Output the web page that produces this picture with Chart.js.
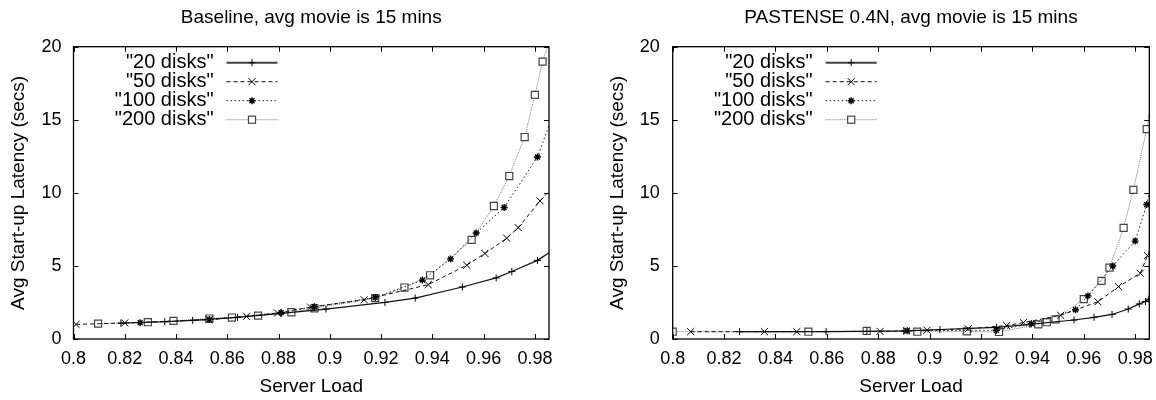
<!DOCTYPE html>
<html>
<head>
<meta charset="utf-8">
<script src="https://cdn.jsdelivr.net/npm/chart.js@4.4.1/dist/chart.umd.min.js"></script>
<style>
  body { margin: 0; background: #fff; }
  .wrap { position: absolute; top: 0; width: 578px; height: 400px; }
</style>
</head>
<body>
<div class="wrap" style="left:0"><canvas id="baseline" width="578" height="400"></canvas></div>
<div class="wrap" style="left:578px"><canvas id="pastense" width="578" height="400"></canvas></div>
<script>
// axis ticks
const xTickValues = [0.8, 0.82, 0.84, 0.86, 0.88, 0.9, 0.92, 0.94, 0.96, 0.98];
const yTickValues = [0, 5, 10, 15, 20];
const xMin = 0.8, xMax = 0.9855;
const seriesLabels = ['"20 disks"', '"50 disks"', '"100 disks"', '"200 disks"'];

// Baseline, avg movie is 15 mins
const base20X = [0.8185, 0.8356, 0.8465, 0.864, 0.881, 0.8985, 0.9215, 0.9333, 0.9517, 0.9649, 0.971, 0.981, 0.9855];
const base20Y = [1.08, 1.18, 1.28, 1.48, 1.75, 2.05, 2.5, 2.8, 3.56, 4.18, 4.62, 5.38, 5.9];
const base50X = [0.801, 0.820, 0.853, 0.8675, 0.8796, 0.8925, 0.9134, 0.9384, 0.9534, 0.9605, 0.969, 0.9735, 0.982, 0.9855];
const base50Y = [1.0, 1.1, 1.32, 1.55, 1.78, 2.18, 2.68, 3.72, 5.05, 5.85, 6.9, 7.62, 9.45, 10.1];
const base100X = [0.826, 0.853, 0.881, 0.894, 0.9177, 0.9361, 0.9471, 0.9571, 0.968, 0.981, 0.9855];
const base100Y = [1.12, 1.33, 1.8, 2.21, 2.84, 4.03, 5.48, 7.25, 9.0, 12.45, 14.6];
const base200X = [0.8096, 0.829, 0.839, 0.853, 0.8618, 0.872, 0.885, 0.894, 0.9177, 0.9291, 0.9391, 0.9553, 0.964, 0.970, 0.976, 0.980, 0.983, 0.9855];
const base200Y = [1.05, 1.15, 1.24, 1.4, 1.47, 1.6, 1.83, 2.1, 2.8, 3.52, 4.36, 6.78, 9.1, 11.15, 13.82, 16.7, 18.98, 20.3];

// PASTENSE 0.4N, avg movie is 15 mins
const past20X = [0.826, 0.8597, 0.8756, 0.890, 0.904, 0.926, 0.939, 0.9562, 0.964, 0.971, 0.9773, 0.9816, 0.984, 0.9853];
const past20Y = [0.5, 0.5, 0.52, 0.55, 0.65, 0.8, 1.0, 1.3, 1.48, 1.68, 2.05, 2.4, 2.57, 2.73];
const past50X = [0.807, 0.8357, 0.8483, 0.8807, 0.891, 0.899, 0.915, 0.930, 0.9365, 0.951, 0.9655, 0.9735, 0.982, 0.9848, 0.9855];
const past50Y = [0.5, 0.5, 0.5, 0.52, 0.55, 0.6, 0.7, 0.92, 1.12, 1.62, 2.55, 3.58, 4.5, 5.7, 6.0];
const past100X = [0.8913, 0.926, 0.9396, 0.9568, 0.9616, 0.9713, 0.980, 0.9845, 0.9855];
const past100Y = [0.57, 0.6, 1.05, 2.0, 2.95, 5.0, 6.7, 9.2, 10.0];
const past200X = [0.8, 0.8528, 0.8755, 0.8952, 0.9145, 0.927, 0.9423, 0.9456, 0.949, 0.96, 0.9669, 0.970, 0.9755, 0.9793, 0.9845, 0.9855];
const past200Y = [0.5, 0.5, 0.55, 0.5, 0.52, 0.48, 1.0, 1.15, 1.35, 2.73, 3.98, 4.88, 7.6, 10.2, 14.36, 15.5];

const FONT = "'Liberation Sans', Arial, Helvetica, sans-serif";

// line/marker look per series (gnuplot mono style)
const styles = [
    { color: '#111', width: 1.2, dash: [], point: 'cross', radius: 3.5, pw: 1 },
    { color: '#111', width: 1, dash: [4, 3], point: 'crossRot', radius: 5, pw: 1 },
    { color: '#222', width: 1, dash: [1.5, 2.5], point: 'star', radius: 3.5, pw: 1.4 },
    { color: '#777', width: 1, dash: [1, 1], point: 'rect', radius: 5, pw: 1.2 }
];

function pairs(xs, ys) {
    return xs.map((x, i) => ({ x, y: ys[i] }));
}

function makeDatasets(series) {
    return series.map(([xs, ys], i) => {
        const s = styles[i];
        return {
            label: seriesLabels[i],
            data: pairs(xs, ys),
            borderColor: s.color,
            borderWidth: s.width,
            borderDash: s.dash,
            tension: 0,
            pointStyle: s.point,
            pointRadius: ctx => (ctx.raw && ctx.raw.x >= xMax ? 0 : s.radius),
            pointHoverRadius: 0,
            pointBorderColor: i === 3 ? '#444' : '#000',
            pointBackgroundColor: '#fff',
            pointBorderWidth: s.pw
        };
    });
}

function drawMarker(ctx, s, x, y) {
    const r = s.radius;
    ctx.save();
    ctx.setLineDash([]);
    ctx.lineWidth = s.pw;
    ctx.strokeStyle = s.point === 'rect' ? '#444' : '#000';
    ctx.beginPath();
    if (s.point === 'cross' || s.point === 'star') {
        ctx.moveTo(x - r, y); ctx.lineTo(x + r, y);
        ctx.moveTo(x, y - r); ctx.lineTo(x, y + r);
    }
    if (s.point === 'crossRot' || s.point === 'star') {
        const d = r * Math.SQRT1_2;
        ctx.moveTo(x - d, y - d); ctx.lineTo(x + d, y + d);
        ctx.moveTo(x - d, y + d); ctx.lineTo(x + d, y - d);
    }
    ctx.stroke();
    if (s.point === 'rect') {
        const h = r * Math.SQRT1_2;
        ctx.fillStyle = '#fff';
        ctx.fillRect(x - h, y - h, 2 * h, 2 * h);
        ctx.strokeRect(x - h, y - h, 2 * h, 2 * h);
    }
    ctx.restore();
}

// frame, inward ticks on all four sides, and the inside legend
const framePlugin = {
    id: 'frame',
    afterDatasetsDraw(chart) {
        const { ctx, chartArea: a, scales: { x, y } } = chart;
        ctx.save();
        ctx.strokeStyle = '#000';
        ctx.lineWidth = 1;
        ctx.beginPath();
        x.ticks.forEach(t => {
            const px = Math.round(x.getPixelForValue(t.value)) + 0.5;
            ctx.moveTo(px, a.bottom); ctx.lineTo(px, a.bottom - 5);
            ctx.moveTo(px, a.top); ctx.lineTo(px, a.top + 5);
        });
        y.ticks.forEach(t => {
            const py = Math.round(y.getPixelForValue(t.value)) + 0.5;
            ctx.moveTo(a.left, py); ctx.lineTo(a.left + 5, py);
            ctx.moveTo(a.right, py); ctx.lineTo(a.right - 5, py);
        });
        ctx.stroke();
        ctx.lineWidth = 1.3;
        ctx.strokeRect(a.left, a.top, a.right - a.left, a.bottom - a.top);

        ctx.font = '20px ' + FONT;
        ctx.fillStyle = '#000';
        ctx.textAlign = 'right';
        ctx.textBaseline = 'middle';
        seriesLabels.forEach((lab, i) => {
            const s = styles[i];
            const ly = a.top + 16 + 19 * i;
            ctx.fillText(lab, a.left + 140, ly);
            ctx.save();
            ctx.strokeStyle = i === 0 ? '#444' : s.color;
            ctx.lineWidth = i === 0 ? 2 : s.width;
            ctx.setLineDash(s.dash);
            ctx.beginPath();
            ctx.moveTo(a.left + 153, ly);
            ctx.lineTo(a.left + 204, ly);
            ctx.stroke();
            ctx.restore();
            drawMarker(ctx, s, a.left + 178.5, ly);
        });
        ctx.restore();
    }
};

function makeChart(id, title, series, yWidth, rightPad, yTitlePad, yTickPad) {
    return new Chart(document.getElementById(id), {
        type: 'line',
        data: { datasets: makeDatasets(series) },
        options: {
            responsive: false,
            animation: false,
            layout: { padding: { left: 0, right: rightPad, top: 0, bottom: 0 } },
            plugins: {
                legend: { display: false },
                tooltip: { enabled: false },
                title: {
                    display: true,
                    text: title,
                    fullSize: false,
                    color: '#000',
                    font: { family: FONT, size: 19, weight: 'normal' },
                    padding: { top: 6, bottom: 17.9 }
                }
            },
            scales: {
                x: {
                    type: 'linear',
                    min: xMin,
                    max: xMax,
                    grid: { display: false, drawTicks: false },
                    border: { display: false },
                    afterBuildTicks: s => { s.ticks = xTickValues.map(v => ({ value: v })); },
                    afterFit: s => { s.height = 61; s.paddingLeft = 0; s.paddingRight = 0; },
                    ticks: {
                        autoSkip: false,
                        maxRotation: 0,
                        padding: 9,
                        color: '#000',
                        font: { family: FONT, size: 18 },
                        callback: v => String(v)
                    },
                    title: {
                        display: true,
                        text: 'Server Load',
                        color: '#000',
                        font: { family: FONT, size: 19 },
                        padding: { top: 0, bottom: 2 }
                    }
                },
                y: {
                    type: 'linear',
                    min: 0,
                    max: 20,
                    grid: { display: false, drawTicks: false },
                    border: { display: false },
                    afterBuildTicks: s => { s.ticks = yTickValues.map(v => ({ value: v })); },
                    afterFit: s => { s.width = yWidth; s.paddingTop = 0; s.paddingBottom = 0; },
                    ticks: {
                        padding: yTickPad,
                        color: '#000',
                        font: { family: FONT, size: 18 },
                        callback: v => String(v)
                    },
                    title: {
                        display: true,
                        text: 'Avg Start-up Latency (secs)',
                        color: '#000',
                        font: { family: FONT, size: 19 },
                        padding: { top: yTitlePad, bottom: 0 }
                    }
                }
            }
        },
        plugins: [framePlugin]
    });
}

makeChart('baseline', 'Baseline, avg movie is 15 mins',
    [[base20X, base20Y], [base50X, base50Y], [base100X, base100Y], [base200X, base200Y]],
    73.5, 29, 7.5, 12);
makeChart('pastense', 'PASTENSE 0.4N, avg movie is 15 mins',
    [[past20X, past20Y], [past50X, past50Y], [past100X, past100Y], [past200X, past200Y]],
    94.7, 6.7, 28, 13);
</script>
</body>
</html>
